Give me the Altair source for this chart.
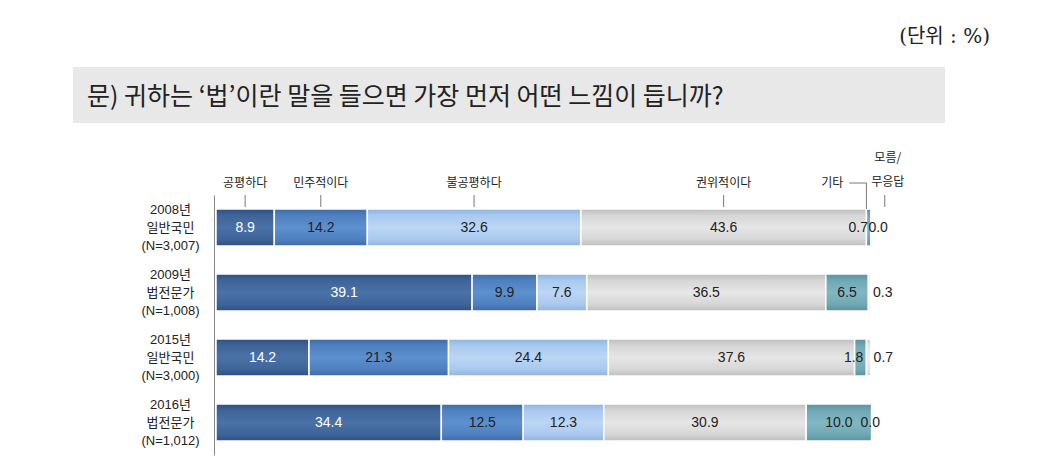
import altair as alt
import pandas as pd

groups = ["2008년|일반국민|(N=3,007)", "2009년|법전문가|(N=1,008)",
          "2015년|일반국민|(N=3,000)", "2016년|법전문가|(N=1,012)"]
categories = ["공평하다", "민주적이다", "불공평하다", "권위적이다", "기타", "모름/무응답"]
v2008 = [8.9, 14.2, 32.6, 43.6, 0.7, 0.0]
v2009 = [39.1, 9.9, 7.6, 36.5, 6.5, 0.3]
v2015 = [14.2, 21.3, 24.4, 37.6, 1.8, 0.7]
v2016 = [34.4, 12.5, 12.3, 30.9, 10.0, 0.0]
# (edge, base, highlight) per category
palette = [
    ("#2f4f7d", "#3e6499", "#4a72a8"),
    ("#3f6aa3", "#4f80c0", "#5d90cf"),
    ("#8fb3de", "#a9c9ee", "#bcd6f4"),
    ("#bdbdbd", "#d6d6d6", "#e6e6e6"),
    ("#5a929e", "#6fa8b4", "#82b7c2"),
    ("#c9d5df", "#dfe7ee", "#ebf1f5"),
]
question = "문) 귀하는 ‘법’이란 말을 들으면 가장 먼저 어떤 느낌이 듭니까?"
unit_text = "(단위 : %)"

rows = []
for g, vals in zip(groups, [v2008, v2009, v2015, v2016]):
    for i, (c, v) in enumerate(zip(categories, vals)):
        rows.append({"group": g, "cat": c, "idx": i, "value": v})
df = pd.DataFrame(rows)

W, H = 655, 260
KFONT = "Noto Sans CJK KR"
NFONT = "Liberation Sans, Noto Sans CJK KR"

xs = alt.Scale(domain=[0, 100], nice=False, zero=False)
ys = alt.Scale(domain=groups, paddingInner=0.43, paddingOuter=0.215)

base = alt.Chart(df).transform_stack(
    stack="value", groupby=["group"], sort=[alt.SortField("idx")], as_=["start", "end"]
).transform_calculate(
    mid="(datum.start + datum.end) / 2",
    tcolor="datum.idx == 0 ? '#ffffff' : '#222222'",
)

yaxis = alt.Axis(labelExpr="split(datum.label, '|')", ticks=False, domain=True,
                 domainColor="#8a8a8a", labelAlign="center", labelPadding=44,
                 labelFontSize=13, labelLineHeight=18, labelFont=NFONT,
                 labelColor="#222", labelBaseline="middle", labelOffset=-18, offset=2)
Y = alt.Y("group:N", scale=ys, sort=groups, title=None, axis=yaxis)

bar_layers = []
for i, (edge, mid_c, hi) in enumerate(palette):
    grad = alt.LinearGradient(
        gradient="linear", x1=0, x2=0, y1=0, y2=1,
        stops=[alt.GradientStop(color=edge, offset=0),
               alt.GradientStop(color=mid_c, offset=0.18),
               alt.GradientStop(color=hi, offset=0.5),
               alt.GradientStop(color=mid_c, offset=0.82),
               alt.GradientStop(color=edge, offset=1)])
    layer = base.transform_filter(f"datum.idx == {i}").mark_bar(
        color=grad, stroke="white", strokeWidth=1.5
    ).encode(
        x=alt.X("start:Q", scale=xs, axis=None),
        x2="end:Q",
        y=Y,
    )
    bar_layers.append(layer)

center_txt = base.transform_filter(
    "datum.idx < 4 || (datum.idx == 4 && datum.value >= 3)"
).mark_text(fontSize=14, font=NFONT, baseline="middle", align="center").encode(
    x=alt.X("mid:Q", scale=xs, axis=None), y=Y,
    text=alt.Text("value:Q", format=".1f"), color=alt.Color("tcolor:N", scale=None),
)

etc_txt = base.transform_filter("datum.idx == 4 && datum.value < 3").mark_text(
    fontSize=14, font=NFONT, baseline="middle", align="right", dx=-3, color="#222"
).encode(
    x=alt.X("end:Q", scale=xs, axis=None), y=Y,
    text=alt.Text("value:Q", format=".1f"),
)

na_txt = base.transform_filter("datum.idx == 5").transform_calculate(
    nx="datum.end + (indexof(datum.group, '2016') == 0 ? -1.7 : indexof(datum.group, '2008') == 0 ? -0.4 : 0.4)"
).mark_text(fontSize=14, font=NFONT, baseline="middle", align="left", color="#222").encode(
    x=alt.X("nx:Q", scale=xs, axis=None), y=Y,
    text=alt.Text("value:Q", format=".1f"),
)

hdr = base.transform_filter(alt.FieldEqualPredicate(field="group", equal=groups[0]))
hdr_main = hdr.transform_filter("datum.idx < 4")
hdr_rule = hdr_main.mark_rule(color="#777", strokeWidth=1).encode(
    x=alt.X("mid:Q", scale=xs, axis=None), y=alt.value(0), y2=alt.value(12))
hdr_text = hdr_main.mark_text(fontSize=12, font=KFONT, color="#222", baseline="middle").encode(
    x=alt.X("mid:Q", scale=xs, axis=None), y=alt.value(-12), text="cat:N")

hdr_etc = hdr.transform_filter("datum.idx == 4").transform_calculate(hx="datum.start - 2.6")
etc_v = hdr_etc.mark_rule(color="#777").encode(
    x=alt.X("start:Q", scale=xs, axis=None), y=alt.value(-12), y2=alt.value(14))
etc_h = hdr_etc.mark_rule(color="#777").encode(
    x=alt.X("hx:Q", scale=xs, axis=None), x2="start:Q", y=alt.value(-12))
etc_t = hdr_etc.mark_text(fontSize=12, font=KFONT, color="#222", align="right",
                          baseline="middle", dx=-6).encode(
    x=alt.X("hx:Q", scale=xs, axis=None), y=alt.value(-12), text="cat:N")

hdr_na = hdr.transform_filter("datum.idx == 5").transform_calculate(
    nx="datum.end + 2.1", lbl="replace(datum.cat, '/', '/|')")
na_rule = hdr_na.mark_rule(color="#777").encode(
    x=alt.X("nx:Q", scale=xs, axis=None), y=alt.value(0), y2=alt.value(12))
na_t = hdr_na.mark_text(fontSize=12, font=KFONT, color="#222", align="center",
                        baseline="middle", lineBreak="|", lineHeight=24, dx=3).encode(
    x=alt.X("nx:Q", scale=xs, axis=None), y=alt.value(-37), text="lbl:N")

qdf = pd.DataFrame({"q": [question], "u": [unit_text]})
qbox = alt.Chart(qdf).mark_rect(color="#e8e8e8").encode(
    x=alt.value(-143), x2=alt.value(729), y=alt.value(-128), y2=alt.value(-72))
qtext = alt.Chart(qdf).mark_text(fontSize=25, font=KFONT, color="#222", align="left",
                                 baseline="middle").encode(
    x=alt.value(-129), y=alt.value(-98), text="q:N")
utext = alt.Chart(qdf).mark_text(fontSize=20, font="DejaVu Serif, Noto Sans CJK KR",
                                 color="#222", align="right", baseline="middle").encode(
    x=alt.value(774), y=alt.value(-158), text="u:N")

chart = alt.layer(
    qbox, qtext, utext, *bar_layers, center_txt, etc_txt, na_txt,
    hdr_rule, hdr_text, etc_v, etc_h, etc_t, na_rule, na_t
).properties(
    width=W, height=H,
    autosize=alt.AutoSizeParams(type="none"),
    padding={"left": 208, "top": 187, "right": 150, "bottom": 5},
).configure_view(stroke=None)

chart.save("out.html", embed_options={"renderer": "svg", "actions": False})
